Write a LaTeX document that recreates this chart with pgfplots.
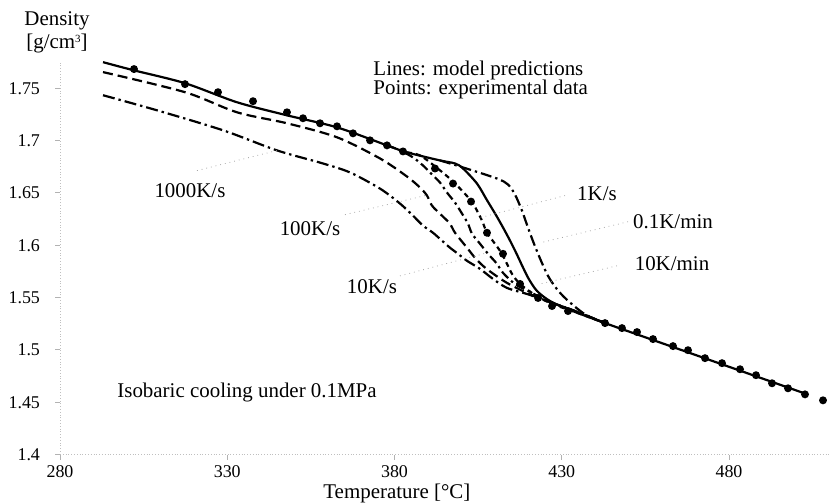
\documentclass[border=0pt]{standalone}
\usepackage{fontspec}
\setmainfont{Liberation Serif}
\usepackage{pgfplots}
\pgfplotsset{compat=1.18}

\begin{document}
\begin{tikzpicture}
\begin{axis}[
    scale only axis,
    width=384.5bp, height=196.15bp,
    xmin=280, xmax=510, ymin=1.4, ymax=1.775,
    axis x line=bottom, axis y line=left,
    axis line style={-, gray!50, densely dotted, line width=0.4bp},
    xtick={280,330,380,430,480}, xticklabels={280,330,380,430,480},
    ytick={1.4,1.45,1.5,1.55,1.6,1.65,1.7,1.75},
    yticklabels={1.4,1.45,1.5,1.55,1.6,1.65,1.7,1.75},
    tick style={gray!60, line width=0.4bp},
    major tick length=2.5bp,
    tick align=outside,
    ticklabel style={font=\fontsize{9}{10.8}\selectfont},
    yticklabel style={xshift=-4bp},
    xticklabel style={yshift=0.5bp},
    clip=false,
    every axis plot/.append style={black, line width=1.1bp},
]

% 1000K/s
\addplot[smooth, dash pattern=on 6bp off 2bp on 1.2bp off 2bp] coordinates {
 (292.86,1.7433) (308.99,1.7289) (328.73,1.7098) (344.87,1.6906) (358.62,1.6781)
 (366.70,1.6695) (375.66,1.6541) (381.64,1.6398) (385.53,1.6282) (388.52,1.6187)
 (391.51,1.6119) (394.20,1.6043) (396.59,1.5976) (398.98,1.5918) (401.67,1.5851)
 (405.56,1.5774) (409.44,1.5678) (413.63,1.5592) (419.61,1.5534) (425.59,1.5467)
 (433.96,1.5371) (442.93,1.5256)
};

% 100K/s
\addplot[smooth, dash pattern=on 5bp off 2.5bp] coordinates {
 (292.86,1.7654) (317.37,1.7462) (332.91,1.7270) (347.86,1.7165) (362.81,1.7031)
 (375.66,1.6829) (383.74,1.6656) (387.62,1.6551) (389.72,1.6474) (391.21,1.6378)
 (394.20,1.6282) (396.59,1.6206) (398.09,1.6119) (401.67,1.5976) (404.06,1.5880)
 (406.45,1.5803) (409.14,1.5736) (413.63,1.5640) (419.61,1.5544) (425.59,1.5467)
 (433.96,1.5371) (442.93,1.5256)
};

% 10K/s
\addplot[smooth, dash pattern=on 4.5bp off 2bp on 1.2bp off 2bp] coordinates {
 (377.76,1.6954) (381.64,1.6906) (385.53,1.6839) (388.52,1.6762) (390.61,1.6695)
 (393.60,1.6599) (395.69,1.6503) (398.09,1.6407) (400.18,1.6302) (401.97,1.6206)
 (403.17,1.6110) (405.56,1.6014) (407.95,1.5918) (410.64,1.5822) (412.43,1.5736)
 (416.02,1.5630) (420.50,1.5554) (426.48,1.5458) (433.96,1.5371) (442.93,1.5256)
};

% 1K/s
\addplot[smooth, dash pattern=on 2.5bp off 2bp] coordinates {
 (383.74,1.6887) (387.62,1.6858) (392.11,1.6753) (397.49,1.6609) (402.87,1.6426)
 (404.66,1.6330) (406.16,1.6235) (407.65,1.6119) (410.04,1.6014) (412.13,1.5918)
 (413.63,1.5822) (415.13,1.5726) (417.53,1.5630) (422.01,1.5525) (427.09,1.5439)
 (433.96,1.5362) (442.93,1.5256)
};

% 0.1K/min
\addplot[smooth, dash pattern=on 5.5bp off 2bp on 1.2bp off 2bp] coordinates {
 (393.60,1.6810) (400.48,1.6743) (410.64,1.6637) (413.93,1.6580) (416.02,1.6484)
 (418.11,1.6330) (419.91,1.6167) (421.70,1.6014) (423.80,1.5851) (425.89,1.5707)
 (428.28,1.5592) (431.27,1.5487) (436.95,1.5340) (442.93,1.5256)
};

% 10K/min (solid, also the glass and liquid lines)
\addplot[smooth] coordinates {
 (292.86,1.7749) (301.82,1.7673) (317.37,1.7548) (332.91,1.7366) (347.86,1.7241)
 (362.81,1.7126) (377.76,1.6954) (383.74,1.6887) (393.60,1.6810) (398.09,1.6781)
 (400.48,1.6733) (404.66,1.6589) (407.65,1.6430) (410.30,1.6290) (412.60,1.6160)
 (414.60,1.6040) (416.50,1.5918) (418.30,1.5795) (420.10,1.5680) (422.60,1.5563)
 (426.48,1.5467) (432.47,1.5381) (442.93,1.5256) (452.50,1.5148) (463.26,1.5027)
 (477.91,1.4862) (492.86,1.4694) (502.72,1.4583)
};

% experimental data
\addplot[only marks, mark=*, mark size=1.4bp] coordinates {
 (302.12,1.7683) (317.37,1.7539) (327.23,1.7462) (337.70,1.7376) (347.86,1.7270)
 (352.64,1.7213) (357.73,1.7165) (362.81,1.7136) (367.59,1.7069) (372.68,1.7002)
 (377.76,1.6954) (382.54,1.6896)
 (392.11,1.6733) (397.49,1.6589) (402.87,1.6417) (407.65,1.6119) (412.43,1.5918)
 (417.53,1.5630) (422.91,1.5496) (427.09,1.5419) (431.87,1.5371)
 (442.93,1.5256) (448.01,1.5208) (452.50,1.5170) (457.28,1.5103) (463.26,1.5036)
 (467.74,1.4997) (472.82,1.4921) (477.91,1.4873) (483.29,1.4815) (488.07,1.4758)
 (492.86,1.4681) (497.64,1.4633) (502.72,1.4575) (508.10,1.4518)
};

% leader lines
\begin{scope}[gray!70, dotted, line width=0.4bp]
\draw (axis cs:320.96,1.6713) -- (axis cs:344.87,1.6905);
\draw (axis cs:365.20,1.6292) -- (axis cs:389.12,1.6474);
\draw (axis cs:381.64,1.5707) -- (axis cs:407.65,1.5927);
\draw (axis cs:430.97,1.6474) -- (axis cs:405.56,1.6263);
\draw (axis cs:449.81,1.6224) -- (axis cs:423.50,1.6023);
\draw (axis cs:446.52,1.5803) -- (axis cs:423.50,1.5630);
\end{scope}

\begin{scope}[every node/.style={font=\fontsize{10.5}{12}\selectfont, inner sep=0pt}]
\node[anchor=base] at (axis cs:318.86,1.6454) {1000K/s};
\node[anchor=base] at (axis cs:354.74,1.6090) {100K/s};
\node[anchor=base] at (axis cs:373.27,1.5534) {10K/s};
\node[anchor=base] at (axis cs:440.54,1.6426) {1K/s};
\node[anchor=base] at (axis cs:463.26,1.6157) {0.1K/min};
\node[anchor=base] at (axis cs:462.96,1.5755) {10K/min};
\node[anchor=base west] at (axis cs:373.6,1.7624) {Lines: model predictions};
\node[anchor=base west] at (axis cs:373.6,1.7442) {Points: experimental data};
\node[anchor=base west] at (axis cs:297.04,1.4547) {Isobaric cooling under 0.1MPa};
\node[anchor=base] at (axis cs:279.1,1.8095) {Density};
\node[anchor=base] at (axis cs:279.1,1.7883) {[g/cm\raisebox{0.55ex}{\fontsize{5.5}{6}\selectfont 3}]};
\node[anchor=base] at (axis cs:380.7,1.3578) {Temperature [°C]};
\end{scope}

% page frame matching the reference margins
\path (axis cs:262.06,1.8343) rectangle (axis cs:511.69,1.3530);
\end{axis}
\end{tikzpicture}
\end{document}
